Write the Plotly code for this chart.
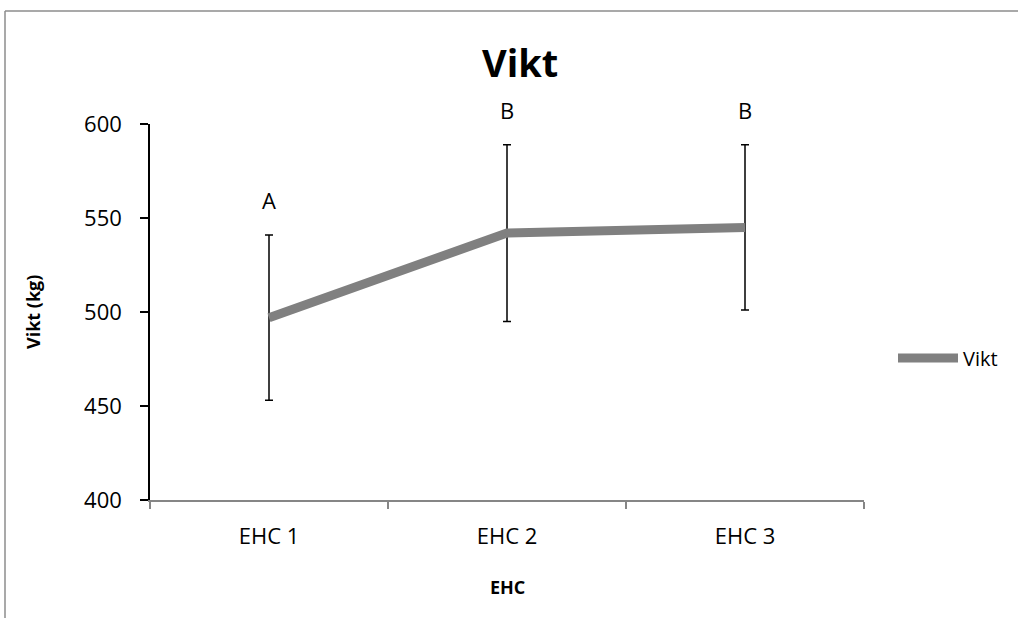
import plotly.graph_objects as go

categories = ["EHC 1", "EHC 2", "EHC 3"]
vikt = [497, 542, 545]
vikt_err = [44, 47, 44]
letters = ["A", "B", "B"]
y_ticks = [400, 450, 500, 550, 600]

FONT = "Open Sans"

fig = go.Figure()
fig.add_trace(go.Scatter(
    x=categories, y=vikt, mode="lines", name="Vikt",
    line=dict(color="#808080", width=9),
    error_y=dict(type="data", array=vikt_err, visible=True,
                 color="black", thickness=1.5, width=4),
))

for c, v, e, t in zip(categories, vikt, vikt_err, letters):
    fig.add_annotation(x=c, y=v + e, text=t, showarrow=False, yshift=35,
                       xref="x", yref="y", xanchor="center", yanchor="middle",
                       font=dict(family=FONT, size=22, color="black"))

L, R, T, B = 150, 154, 124, 118
W, H = 1018, 618
pw, ph = W - L - R, H - T - B

def px(x):
    return (x - L) / pw

def py(y):
    return (H - B - y) / ph

fig.add_annotation(x=px(520), y=py(62), xref="paper", yref="paper", text="<b>Vikt</b>",
                   xanchor="center", yanchor="middle",
                   showarrow=False, font=dict(family=FONT, size=38, color="black"))
fig.add_annotation(x=px(507), y=py(587), xref="paper", yref="paper", text="<b>EHC</b>",
                   xanchor="center", yanchor="middle",
                   showarrow=False, font=dict(family=FONT, size=18, color="black"))
fig.add_annotation(x=px(33), y=py(312), xref="paper", yref="paper", text="<b>Vikt (kg)</b>",
                   xanchor="center", yanchor="middle",
                   showarrow=False, textangle=-90, font=dict(family=FONT, size=18, color="black"))

border = "#8c8c8c"
fig.add_shape(type="line", xref="paper", yref="paper", x0=px(5), x1=px(W + 5), y0=py(11), y1=py(11),
              line=dict(color=border, width=1.5))
fig.add_shape(type="line", xref="paper", yref="paper", x0=px(5), x1=px(5), y0=py(11), y1=py(H + 5),
              line=dict(color=border, width=1.5))

fig.update_layout(
    width=W, height=H,
    margin=dict(l=L, r=R, t=T, b=B),
    paper_bgcolor="white", plot_bgcolor="white",
    font=dict(family=FONT, size=22, color="black"),
    showlegend=True,
    legend=dict(x=px(893), y=py(358), xanchor="left", yanchor="middle",
                itemwidth=60, font=dict(family=FONT, size=20, color="black"),
                bgcolor="rgba(0,0,0,0)"),
    xaxis=dict(type="category", range=[-0.5, 2.5], showline=True, linecolor="#868686", linewidth=1.5,
               ticks="outside", tickson="boundaries", ticklen=7, tickcolor="#868686",
               tickwidth=1.5, showgrid=False, zeroline=False,
               ticklabelstandoff=16, tickfont=dict(family=FONT, size=22)),
    yaxis=dict(range=[400, 600], tickvals=y_ticks, showline=True, linecolor="black",
               linewidth=1.5, ticks="outside", ticklen=8, tickcolor="black", tickwidth=1.5,
               showgrid=False, zeroline=False, ticklabelstandoff=14,
               tickfont=dict(family=FONT, size=22)),
)

fig.write_html("out.html", config={"displayModeBar": False},
               post_script="document.body.style.margin='0';document.body.style.overflow='hidden';")
